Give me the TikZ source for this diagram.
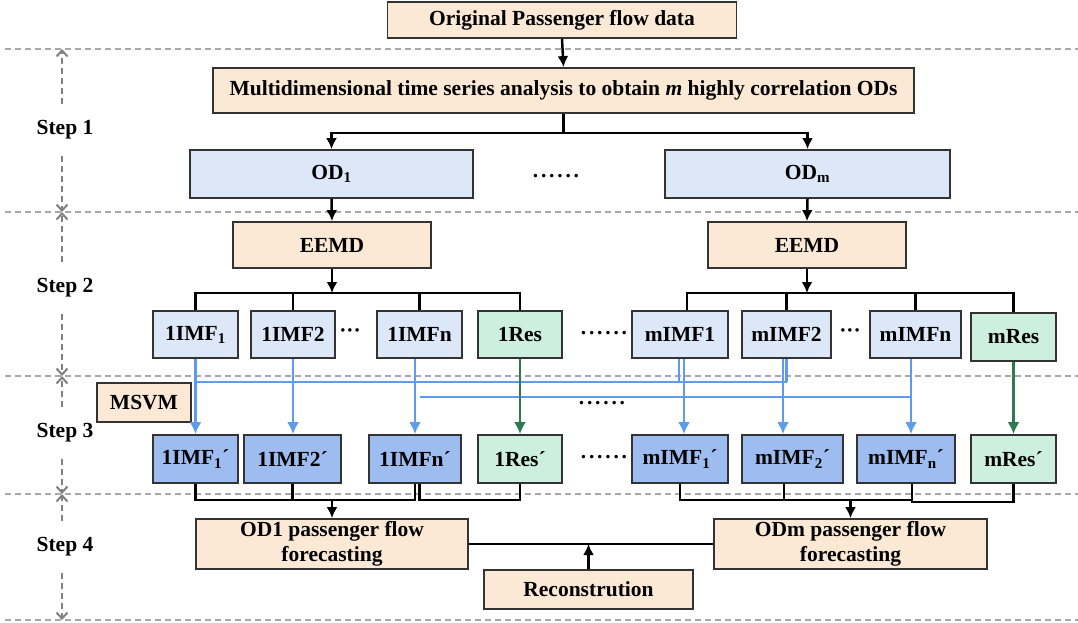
\documentclass[tikz,border=0pt]{standalone}
\usepackage{fontspec}
\setmainfont{Liberation Serif}
\usetikzlibrary{arrows.meta,calc}

\definecolor{peach}{HTML}{FCE9D5}
\definecolor{paleblue}{HTML}{DCE8F8}
\definecolor{midblue}{HTML}{9DBDF0}
\definecolor{mint}{HTML}{CDEFDD}
\definecolor{bordc}{HTML}{333333}
\definecolor{flowblue}{HTML}{5E9BEB}
\definecolor{flowgreen}{HTML}{2D7A50}
\definecolor{sepgray}{HTML}{A8A8A8}
\definecolor{stepgray}{HTML}{808080}

\tikzset{
  box/.style={draw=bordc, line width=1.8pt, inner sep=0pt, align=center},
  conn/.style={draw=black, line width=2.5pt},
  arr/.style={conn, -{Latex[length=11pt,width=11pt]}},
  blueline/.style={draw=flowblue, line width=2.6pt},
  bluearr/.style={blueline, -{Latex[length=12pt,width=12pt]}},
  greenarr/.style={draw=flowgreen, line width=2.6pt, -{Latex[length=12pt,width=12pt]}},
  sep/.style={draw=sepgray, line width=1.4pt, dash pattern=on 6pt off 4pt},
  steparr/.style={draw=stepgray, line width=2pt, dash pattern=on 6pt off 4pt,
    -{Straight Barb[length=6pt,width=11pt]}},
  dotrow/.style={inner sep=0pt, font=\fontsize{21.5}{24.5}\selectfont\bfseries\addfontfeature{LetterSpace=13}},
}

\begin{document}
\begin{tikzpicture}[x=1pt, y=-1pt, font=\fontsize{21.5}{24.5}\selectfont\bfseries]
\useasboundingbox (0,0) rectangle (1078,623);

% section separators
\foreach \yy in {49,212,376,494,620}
  \draw[sep] (5,\yy) -- (1078,\yy);

% step labels with their span arrows
\foreach \lab/\L/\t/\b in {1/130/49/212, 2/288/212/376, 3/433/376/494, 4/547/494/620} {
  \node[inner sep=0pt] (step\lab) at (65,\L) {Step \lab};
  \coordinate (stt\lab) at (62,\t);
  \coordinate (stb\lab) at (62,\b);
  \draw[steparr] (62,\L-26) -- (stt\lab);
  \draw[steparr] (62,\L+26) -- (stb\lab);
}

% ---- step 1 ----
\node[box, fill=peach, minimum width=349pt, minimum height=36pt] (orig) at (562,20) {Original Passenger flow data};
\node[box, fill=peach, minimum width=701pt, minimum height=45pt] (multi) at (563.5,90.5)
  {Multidimensional time series analysis to obtain \textit{m} highly correlation ODs};
\node[box, fill=paleblue, minimum width=283pt, minimum height=48pt] (OD1) at (331.5,174) {OD\textsubscript{1}};
\node[box, fill=paleblue, minimum width=285pt, minimum height=48pt] (ODm) at (807.5,174) {OD\textsubscript{m}};
\node[dotrow] (d1) at (556,176) {......};

\draw[arr] (orig.south) -- (multi.north);
\coordinate (br1) at (0,133);
\draw[arr] (multi.south) -- (multi.south |- br1) -| (OD1.north);
\draw[arr] (multi.south |- br1) -| (ODm.north);

% ---- step 2 ----
\node[box, fill=peach, minimum width=198pt, minimum height=46pt] (EEMD1) at (332,245) {EEMD};
\node[box, fill=peach, minimum width=198pt, minimum height=46pt] (EEMD2) at (807,245) {EEMD};
\draw[arr] (OD1.south) -- (EEMD1.north);
\draw[arr] (ODm.south) -- (EEMD2.north);

\node[box, fill=paleblue, minimum width=85pt, minimum height=47pt] (IMF11) at (195.5,334.5) {1IMF\textsubscript{1}};
\node[box, fill=paleblue, minimum width=84pt, minimum height=47pt] (IMF12) at (293,334.5) {1IMF2};
\node[inner sep=0pt] (d2) at (350,333) {···};
\node[box, fill=paleblue, minimum width=85pt, minimum height=47pt] (IMF1n) at (419.5,334.5) {1IMFn};
\node[box, fill=mint, minimum width=84pt, minimum height=47pt] (IMF1r) at (520,334.5) {1Res};
\node[dotrow] (d3) at (604,333) {......};
\node[box, fill=paleblue, minimum width=96pt, minimum height=47pt] (mIMF1) at (680,334.5) {mIMF1};
\node[box, fill=paleblue, minimum width=89pt, minimum height=47pt] (mIMF2) at (786.5,334.5) {mIMF2};
\node[inner sep=0pt] (d4) at (850,333) {···};
\node[box, fill=paleblue, minimum width=91pt, minimum height=47pt] (mIMFn) at (915.5,334.5) {mIMFn};
\node[box, fill=mint, minimum width=85pt, minimum height=48pt] (mRes) at (1013.5,337) {mRes};

\coordinate (br2) at (0,293);
\draw[arr] (EEMD1.south) -- (EEMD1.south |- br2);
\draw[conn] (IMF11.north) |- (br2 -| IMF1r.north) -- (IMF1r.north);
\draw[conn] (IMF12.north) -- (IMF12.north |- br2);
\draw[conn] (IMF1n.north) -- (IMF1n.north |- br2);
\draw[arr] (EEMD2.south) -- (EEMD2.south |- br2);
\coordinate (t1) at ($(mIMF1.north)+(7,0)$);
\draw[conn] (t1) |- (br2 -| mRes.north) -- (mRes.north);
\draw[conn] (mIMF2.north) -- (mIMF2.north |- br2);
\draw[conn] (mIMFn.north) -- (mIMFn.north |- br2);

% ---- step 3 ----
\node[box, fill=peach, minimum width=94pt, minimum height=39pt] (msvm) at (144,402.5) {MSVM};

\node[box, fill=midblue, minimum width=85pt, minimum height=48pt] (IMF11p) at (195.5,459) {1IMF\textsubscript{1}´};
\node[box, fill=midblue, minimum width=97pt, minimum height=48pt] (IMF12p) at (292.5,459) {1IMF2´};
\node[box, fill=midblue, minimum width=92pt, minimum height=48pt] (IMF1np) at (415,459) {1IMFn´};
\node[box, fill=mint, minimum width=84pt, minimum height=48pt] (IMF1rp) at (520,459) {1Res´};
\node[dotrow] (d5) at (604,457) {......};
\node[box, fill=midblue, minimum width=96pt, minimum height=48pt] (mIMF1p) at (680,459) {mIMF\textsubscript{1}´};
\node[box, fill=midblue, minimum width=101pt, minimum height=48pt] (mIMF2p) at (792.5,459) {mIMF\textsubscript{2}´};
\node[box, fill=midblue, minimum width=98pt, minimum height=48pt] (mIMFnp) at (906,459) {mIMF\textsubscript{n}´};
\node[box, fill=mint, minimum width=85pt, minimum height=48pt] (mResp) at (1013.5,459) {mRes´};
\node[dotrow] (d6) at (602,403) {......};

% forecasting model links
\coordinate (busA) at (0,382);
\coordinate (busB) at (0,397);
\coordinate (b1l) at ($(mIMF1.south)+(-1,0)$);
\coordinate (b1r) at ($(mIMF1.south)+(4,0)$);
\coordinate (b2l) at ($(mIMF2.south)+(-3.5,0)$);
\coordinate (bn) at ($(mIMFn.south)+(-4.5,0)$);
\draw[bluearr] (IMF11.south) -- (IMF11.south |- IMF11p.north);
\draw[bluearr] (IMF12.south) -- (IMF12.south |- IMF12p.north);
\draw[bluearr] (IMF1np.north |- IMF1n.south) -- (IMF1np.north);
\draw[blueline] (IMF11.south |- busA) -- (mIMF2.south |- busA);
\draw[blueline] (b1l) -- (b1l |- busA);
\draw[blueline] (mIMF2.south) -- (mIMF2.south |- busA);
\draw[bluearr] (b1r) -- (b1r |- mIMF1p.north);
\draw[bluearr] (b2l) -- (b2l |- mIMF2p.north);
\draw[blueline] (IMF1n.south |- busB) -- (bn |- busB);
\draw[bluearr] (bn) -- (bn |- mIMFnp.north);
\draw[greenarr] (IMF1r.south) -- (IMF1r.south |- IMF1rp.north);
\draw[greenarr] (mRes.south) -- (mRes.south |- mResp.north);

% ---- step 4 ----
\node[box, fill=peach, minimum width=272pt, minimum height=50pt] (OD1f) at (332,544) {OD1 passenger flow\\forecasting};
\node[box, fill=peach, minimum width=273pt, minimum height=50pt] (ODmf) at (850.5,544) {ODm passenger flow\\forecasting};
\node[box, fill=peach, minimum width=209pt, minimum height=39pt] (recon) at (588.5,589.5) {Reconstrution};

\coordinate (mg) at (0,500);
\coordinate (mg2) at (0,502);
\coordinate (r1a) at ($(IMF1np.south)+(4.5,0)$);
\draw[conn] (IMF11p.south) |- (mg -| IMF1np.south) -- (IMF1np.south);
\draw[conn] (IMF12p.south) -- (IMF12p.south |- mg);
\draw[conn] (r1a) |- (mg -| IMF1rp.south) -- (IMF1rp.south);
\draw[arr] (OD1f.north |- mg) -- (OD1f.north);

\coordinate (c2) at ($(mIMF2p.south)+(-8.5,0)$);
\coordinate (c3) at ($(mIMFnp.south)+(6,0)$);
\draw[conn] (mIMF1p.south) |- (mg -| c3) -- (c3);
\draw[conn] (c2) -- (c2 |- mg);
\draw[conn] (c3) |- (mg2 -| mResp.south) -- (mResp.south);
\draw[arr] (ODmf.north |- mg) -- (ODmf.north);

\draw[conn] (OD1f.east) -- (ODmf.west);
\draw[arr] (recon.north) -- (recon.north |- OD1f.east);
\end{tikzpicture}
\end{document}
